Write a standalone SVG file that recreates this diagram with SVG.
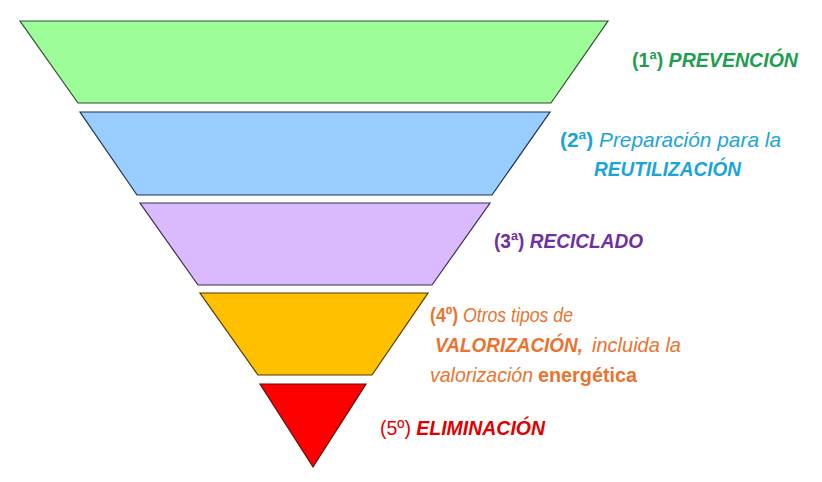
<svg xmlns="http://www.w3.org/2000/svg" width="822" height="482" viewBox="0 0 822 482">
<style>
.lvl{stroke-width:1.2;stroke-linejoin:miter}
text{font-family:"Liberation Sans",Arial,sans-serif;font-size:21px}
.b{font-weight:bold}
.i{font-style:italic}
.bi{font-weight:bold;font-style:italic}
</style>
<rect width="822" height="482" fill="#ffffff"/>
<g id="n1">
<polygon class="lvl" points="20,21 608,21 551,103 78,103" fill="#9dfd98" stroke="#2e4d2e"/>
<text x="632" y="67" fill="#1f9e50" textLength="166" lengthAdjust="spacingAndGlyphs"><tspan class="b">(1ª)</tspan> <tspan class="bi">PREVENCIÓN</tspan></text>
</g>
<g id="n2">
<polygon class="lvl" points="80,112 550,112 492,195 137,195" fill="#99ccff" stroke="#1f3350"/>
<text x="560" y="147" fill="#1ba4dc" textLength="221" lengthAdjust="spacingAndGlyphs"><tspan class="b">(2ª)</tspan> <tspan class="i">Preparación para la</tspan></text>
<text x="594" y="176" fill="#1ba4dc" class="bi" textLength="147" lengthAdjust="spacingAndGlyphs">REUTILIZACIÓN</text>
</g>
<g id="n3">
<polygon class="lvl" points="140,203 490,203 432,285 198,285" fill="#dbb9fd" stroke="#3d2f50"/>
<text x="494" y="248" fill="#7030a0" textLength="149" lengthAdjust="spacingAndGlyphs"><tspan class="b">(3ª)</tspan> <tspan class="bi">RECICLADO</tspan></text>
</g>
<g id="n4">
<polygon class="lvl" points="200,293 428,293 372,375 258,375" fill="#ffc000" stroke="#4d3a00"/>
<text x="430" y="322" fill="#ea7330" textLength="143" lengthAdjust="spacingAndGlyphs"><tspan class="b">(4º)</tspan> <tspan class="i">Otros tipos de</tspan></text>
<text x="435" y="352" fill="#ea7330" class="bi" textLength="148" lengthAdjust="spacingAndGlyphs">VALORIZACIÓN,</text>
<text x="592" y="352" fill="#ea7330" class="i" textLength="89" lengthAdjust="spacingAndGlyphs">incluida la</text>
<text x="430" y="382" fill="#ea7330" class="i" textLength="103" lengthAdjust="spacingAndGlyphs">valorización</text>
<text x="538" y="382" fill="#ea7330" class="b" textLength="99" lengthAdjust="spacingAndGlyphs">energética</text>
</g>
<g id="n5">
<polygon class="lvl" points="260,384 366,384 313,467" fill="#ff0000" stroke="#5a1010"/>
<text x="380" y="435" fill="#e00000" textLength="165" lengthAdjust="spacingAndGlyphs"><tspan>(5º)</tspan> <tspan class="bi">ELIMINACIÓN</tspan></text>
</g>
<g id="connectors"/>
</svg>
